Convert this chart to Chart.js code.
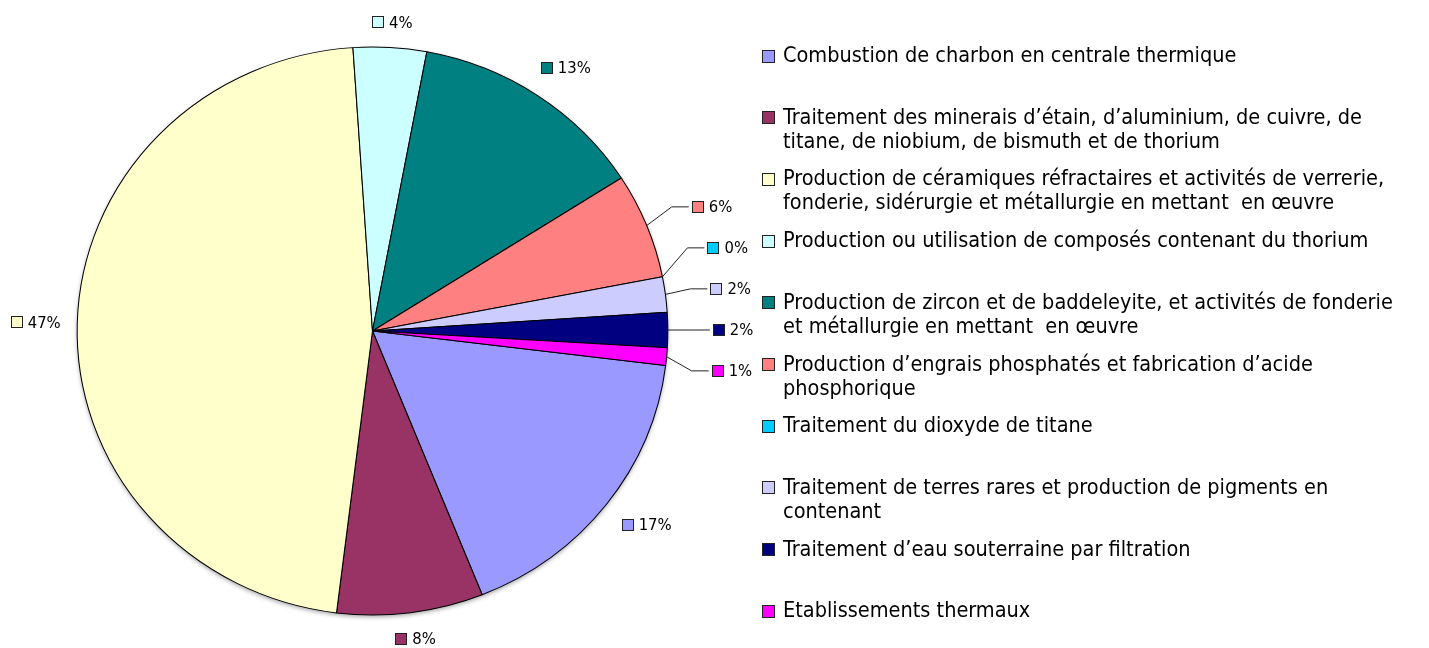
<!DOCTYPE html>
<html lang="fr">
<head>
<meta charset="utf-8">
<title>Répartition par secteur</title>
<script src="https://cdn.jsdelivr.net/npm/chart.js@4.4.1/dist/chart.umd.min.js"></script>
<style>
  html, body { margin: 0; padding: 0; background: #fff; }
  #wrap { width: 1429px; height: 648px; }
</style>
</head>
<body>
<div id="wrap"><canvas id="pie" width="1429" height="648"></canvas></div>
<script>
// Secteurs (une ligne par ligne de texte dans la légende)
const categories = [
    ["Combustion de charbon en centrale thermique"],
    ["Traitement des minerais d’étain, d’aluminium, de cuivre, de", "titane, de niobium, de bismuth et de thorium"],
    ["Production de céramiques réfractaires et activités de verrerie,", "fonderie, sidérurgie et métallurgie en mettant  en œuvre"],
    ["Production ou utilisation de composés contenant du thorium"],
    ["Production de zircon et de baddeleyite, et activités de fonderie", "et métallurgie en mettant  en œuvre"],
    ["Production d’engrais phosphatés et fabrication d’acide", "phosphorique"],
    ["Traitement du dioxyde de titane"],
    ["Traitement de terres rares et production de pigments en", "contenant"],
    ["Traitement d’eau souterraine par filtration"],
    ["Etablissements thermaux"]
];

// Part de chaque secteur (%)
const shares = [17, 8, 47, 4, 13, 6, 0, 2, 2, 1];

const sliceColors = ["#9999FF", "#993366", "#FFFFCC", "#CCFFFF", "#008080",
                     "#FF8080", "#00CCFF", "#CCCCFF", "#000080", "#FF00FF"];

const STRETCH_X = 1.04;     // pie is a bit wider than tall
const LABEL_FONT = '16.5px "DejaVu Sans Condensed", "DejaVu Sans", sans-serif';
const LEGEND_FONT = '21.5px "DejaVu Sans Condensed", "DejaVu Sans", sans-serif';

function drawSwatch(ctx, x, y, size, color) {
    ctx.fillStyle = color;
    ctx.fillRect(x, y, size, size);
    ctx.strokeStyle = "#222";
    ctx.lineWidth = 1;
    ctx.strokeRect(x + 0.5, y + 0.5, size - 1, size - 1);
}

// widen the pie horizontally and put a soft shadow under it
const stretchPie = {
    id: "stretchPie",
    beforeDatasetsDraw(chart) {
        const arc = chart.getDatasetMeta(0).data[0];
        const ctx = chart.ctx;
        ctx.save();
        ctx.translate(arc.x, arc.y);
        ctx.scale(STRETCH_X, 1);
        ctx.translate(-arc.x, -arc.y);
        ctx.save();
        ctx.filter = "blur(2px)";
        ctx.fillStyle = "rgba(0,0,0,0.35)";
        ctx.beginPath();
        ctx.arc(arc.x, arc.y + 2, arc.outerRadius, 0, Math.PI * 2);
        ctx.fill();
        ctx.restore();
    },
    afterDatasetsDraw(chart) {
        chart.ctx.restore();
    }
};

// percentage labels around the pie, with leader lines for the thin right-hand slices
const sliceLabels = {
    id: "sliceLabels",
    afterDraw(chart) {
        const ctx = chart.ctx;
        const meta = chart.getDatasetMeta(0);
        ctx.save();
        ctx.font = LABEL_FONT;
        ctx.textBaseline = "middle";
        ctx.textAlign = "left";

        const items = meta.data.map((arc, i) => {
            const mid = (arc.startAngle + arc.endAngle) / 2;
            const ux = Math.cos(mid), uy = Math.sin(mid);
            const text = shares[i] + "%";
            return {
                i, ux, uy, text,
                px: arc.x + STRETCH_X * arc.outerRadius * ux,
                py: arc.y + arc.outerRadius * uy,
                w: 17 + ctx.measureText(text).width,
                h: 16
            };
        });

        const leaders = items.filter(it => shares[it.i] <= 6 && it.ux > 0.7);
        const plain = items.filter(it => !leaders.includes(it));

        plain.forEach(it => {
            const d = 16 + 20 * Math.abs(it.ux * it.uy);
            const cx = it.px + it.ux * (d + it.w / 2);
            const cy = it.py + it.uy * (d + it.h / 2);
            drawSwatch(ctx, Math.round(cx - it.w / 2), Math.round(cy - 6), 12, sliceColors[it.i]);
            ctx.fillStyle = "#000";
            ctx.fillText(it.text, cx - it.w / 2 + 17, cy + 1);
        });

        // spread the leader labels vertically, keeping the most horizontal one in place
        leaders.forEach(it => { it.ly = it.py + it.uy * 40; });
        leaders.sort((a, b) => a.ly - b.ly);
        const gap = 41;
        let pivot = 0;
        leaders.forEach((it, k) => { if (Math.abs(it.uy) < Math.abs(leaders[pivot].uy)) pivot = k; });
        for (let k = pivot - 1; k >= 0; k--) {
            leaders[k].ly = Math.min(leaders[k].ly, leaders[k + 1].ly - gap);
        }
        for (let k = pivot + 1; k < leaders.length; k++) {
            leaders[k].ly = Math.max(leaders[k].ly, leaders[k - 1].ly + gap);
        }

        leaders.forEach(it => {
            const ex = it.px + 25;
            const ey = Math.abs(it.ly - it.py) < 3 ? it.py : it.ly;
            const left = ex + 20;
            ctx.strokeStyle = "#222";
            ctx.lineWidth = 1;
            ctx.beginPath();
            ctx.moveTo(it.px, it.py);
            ctx.lineTo(ex, ey);
            ctx.lineTo(left - 3, ey);
            ctx.stroke();
            drawSwatch(ctx, Math.round(left), Math.round(ey - 6), 12, sliceColors[it.i]);
            ctx.fillStyle = "#000";
            ctx.fillText(it.text, left + 17, ey + 1);
        });
        ctx.restore();
    }
};

// legend on the right, long names wrapped on two lines
const sideLegend = {
    id: "sideLegend",
    afterDraw(chart) {
        const ctx = chart.ctx;
        ctx.save();
        ctx.font = LEGEND_FONT;
        ctx.textBaseline = "middle";
        ctx.textAlign = "left";
        categories.forEach((lines, i) => {
            const y = 55.5 + i * 61.7;
            drawSwatch(ctx, 762, Math.round(y - 6), 13, sliceColors[i]);
            ctx.fillStyle = "#000";
            lines.forEach((line, j) => ctx.fillText(line, 783, y + 1 + j * 24));
        });
        ctx.restore();
    }
};

new Chart(document.getElementById("pie"), {
    type: "pie",
    data: {
        labels: categories.map(l => l.join(" ")),
        datasets: [{
            data: shares,
            backgroundColor: sliceColors,
            borderColor: "#000",
            borderWidth: 1,
            radius: 284
        }]
    },
    options: {
        responsive: false,
        animation: false,
        rotation: 97,
        layout: { padding: { left: 60, right: 744, top: 30, bottom: 16 } },
        plugins: {
            legend: { display: false },
            tooltip: { enabled: false }
        },
        events: []
    },
    plugins: [stretchPie, sliceLabels, sideLegend]
});
</script>
</body>
</html>
